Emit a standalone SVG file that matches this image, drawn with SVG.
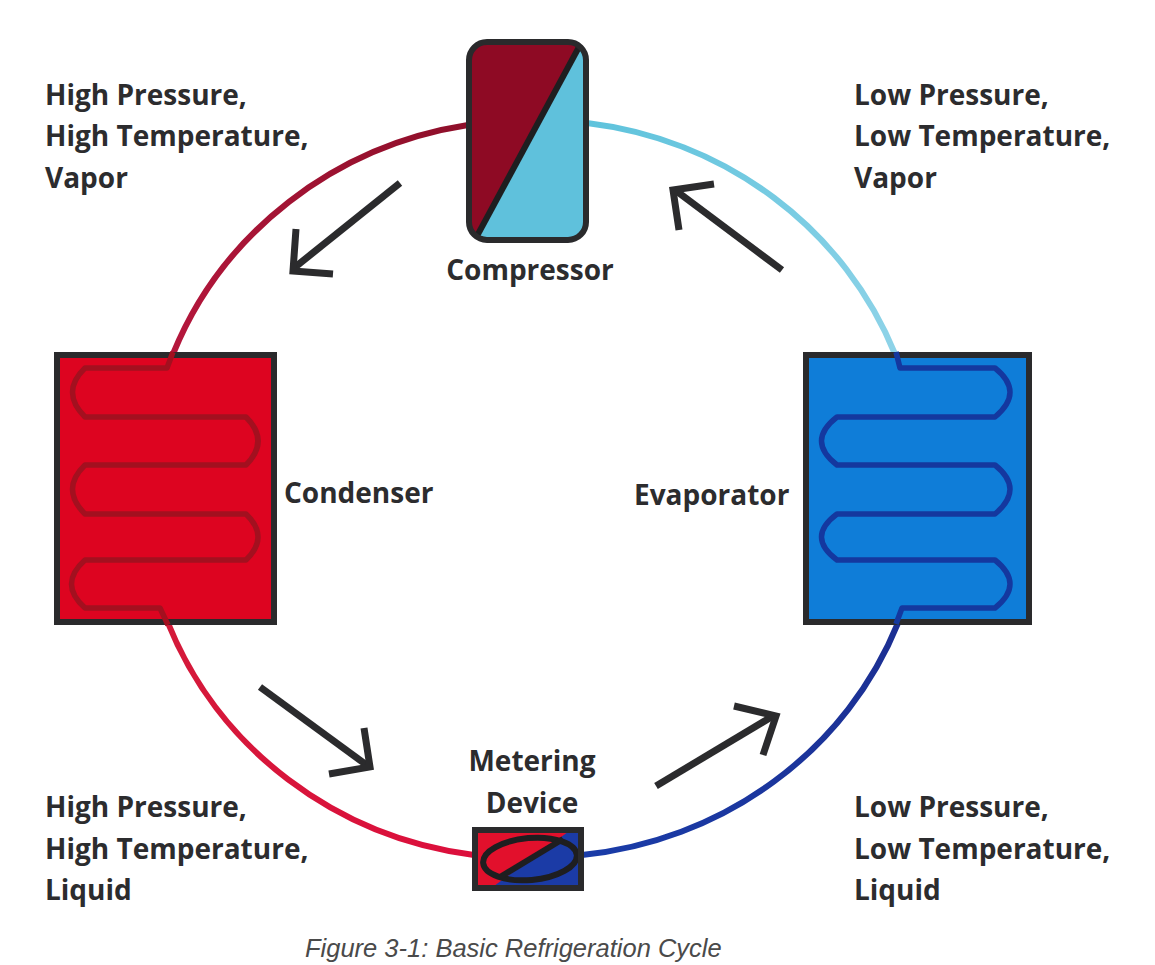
<svg xmlns="http://www.w3.org/2000/svg" width="1155" height="965" viewBox="0 0 1155 965">
<style>
text{font-family:"Open Sans","Liberation Sans",sans-serif;font-weight:700;font-size:28px;fill:#2c2c2e}
.mid{text-anchor:middle}
.cap{font-family:"Liberation Sans",Arial,sans-serif;font-weight:400;font-style:italic;font-size:25.500px;fill:#4a4a4a}
.box{stroke:#2a2a2c;stroke-width:6}
.pipe{fill:none;stroke-width:6}
.coil{fill:none;stroke-width:5.500;stroke-linejoin:round}
.arrow{fill:none;stroke:#2b2b2d;stroke-width:7;stroke-linejoin:miter}
</style>
<defs>
<linearGradient id="gTL" gradientUnits="userSpaceOnUse" x1="466" y1="125" x2="175" y2="352"><stop offset="0" stop-color="#8e0f2a"/><stop offset="1" stop-color="#b5173c"/></linearGradient>
<linearGradient id="gTR" gradientUnits="userSpaceOnUse" x1="589" y1="123" x2="895" y2="352"><stop offset="0" stop-color="#5fc3dc"/><stop offset="1" stop-color="#8ed3e8"/></linearGradient>
<linearGradient id="gBL" gradientUnits="userSpaceOnUse" x1="168" y1="625" x2="472" y2="855"><stop offset="0" stop-color="#d41a3a"/><stop offset="1" stop-color="#dc0f3c"/></linearGradient>
<linearGradient id="gBR" gradientUnits="userSpaceOnUse" x1="584" y1="855" x2="898" y2="620"><stop offset="0" stop-color="#1a3ca8"/><stop offset="1" stop-color="#1c2f92"/></linearGradient>
<clipPath id="cComp"><rect x="469" y="42" width="117" height="198" rx="18"/></clipPath>
<clipPath id="cMeter"><rect x="474" y="829" width="108" height="60"/></clipPath>
</defs>
<rect width="1155" height="965" fill="#fff"/>
<g id="connectors">
<path class="pipe" stroke="url(#gTL)" d="M468 125A382 368 0 0 0 173 354"/>
<path class="pipe" stroke="url(#gTR)" d="M587 123A382 368 0 0 1 895 354"/>
<path class="pipe" stroke="url(#gBL)" d="M168 623A382 368 0 0 0 474 855"/>
<path class="pipe" stroke="url(#gBR)" d="M582 855A382 368 0 0 0 898 623"/>
<path class="arrow" d="M400 183L294 268"/><path class="arrow" d="M296 229L293 271L333 274"/>
<path class="arrow" d="M782 270L675 190"/><path class="arrow" d="M714 184L673 190L679 230"/>
<path class="arrow" d="M260 687L368 766"/><path class="arrow" d="M364 728L370 767L329 774"/>
<path class="arrow" d="M656 786L773 716"/><path class="arrow" d="M734 706L776 716L763 755"/>
</g>
<g id="compressor">
<g clip-path="url(#cComp)">
<rect x="469" y="42" width="117" height="198" fill="#5fc1dc"/>
<path d="M469 42H581L476 238H469Z" fill="#8e0a24"/>
</g>
<path d="M579 47L477 236" fill="none" stroke="#1e1e20" stroke-width="6"/>
<rect class="box" x="469" y="42" width="117" height="198" rx="18" fill="none" stroke-width="7"/>
<text class="mid" x="530" y="280">Compressor</text>
</g>
<g id="condenser">
<rect class="box" x="57" y="355" width="217" height="267" fill="#dd0420"/>
<path class="coil" stroke="#a3101f" d="M173 352L167 368H85Q60 392 85 417H246Q270 441 246 465H85Q60 489 85 514H246Q270 537 246 560H85Q58 584 85 608H160L168 625"/>
<text x="284" y="503">Condenser</text>
</g>
<g id="evaporator">
<rect class="box" x="806" y="355" width="223" height="267" fill="#0f7dd8"/>
<path class="coil" stroke="#14389f" d="M896 352L900 368H995Q1025 392 995 417H837Q806 441 837 465H995Q1025 489 995 514H837Q806 537 837 560H995Q1025 584 995 608H902L896 624"/>
<text x="634" y="505">Evaporator</text>
</g>
<g id="metering-device">
<g clip-path="url(#cMeter)">
<rect x="474" y="829" width="108" height="60" fill="#1b3ba6"/>
<path d="M474 829H572L490 889H474Z" fill="#e2102c"/>
</g>
<ellipse cx="530" cy="859" rx="47" ry="21" transform="rotate(-5 530 859)" fill="none" stroke="#1e1e20" stroke-width="6"/>
<path d="M563 839L500 877" fill="none" stroke="#1e1e20" stroke-width="6"/>
<rect class="box" x="475" y="830" width="106" height="58" fill="none" stroke-width="6"/>
<text class="mid" x="532" y="771">Metering</text>
<text class="mid" x="532" y="813">Device</text>
</g>
<g id="labels">
<text x="45" y="105">High Pressure,</text>
<text x="45" y="146">High Temperature,</text>
<text x="45" y="188">Vapor</text>
<text x="854" y="105">Low Pressure,</text>
<text x="854" y="146">Low Temperature,</text>
<text x="854" y="188">Vapor</text>
<text x="45" y="817">High Pressure,</text>
<text x="45" y="859">High Temperature,</text>
<text x="45" y="900">Liquid</text>
<text x="854" y="817">Low Pressure,</text>
<text x="854" y="859">Low Temperature,</text>
<text x="854" y="900">Liquid</text>
<text class="cap" x="305" y="957">Figure 3-1: Basic Refrigeration Cycle</text>
</g>
</svg>
